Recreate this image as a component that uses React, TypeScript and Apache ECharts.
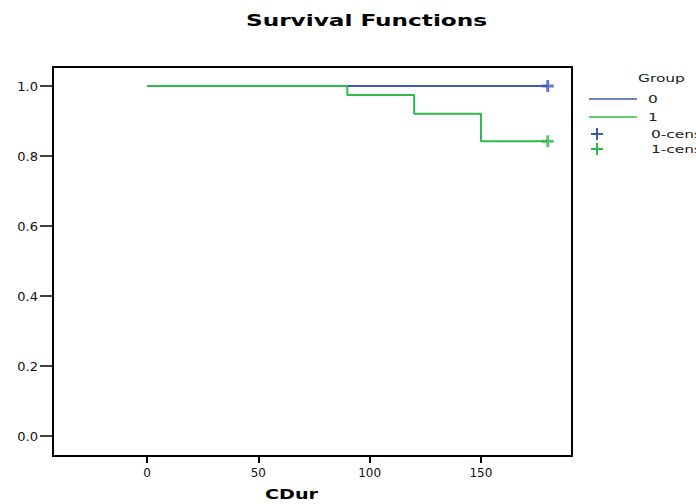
import React, { useEffect, useRef } from "react";
import * as echarts from "echarts";

// ---- data ----
const groupNames = ["0", "1"];
const time0 = [0, 180];
const surv0 = [1.0, 1.0];
const time1 = [0, 90, 120, 150, 180];
const surv1 = [1.0, 0.974, 0.921, 0.842, 0.842];
const censTime0 = [180];
const censSurv0 = [1.0];
const censTime1 = [180];
const censSurv1 = [0.842];
const xTicks = [0, 50, 100, 150];
const yTicks = [0, 0.2, 0.4, 0.6, 0.8, 1.0];
const titleText = "Survival Functions";
const xName = "CDur";
const legendTitle = "Group";
const legendLabels = ["0", "1", "0-censored", "1-censored"];

const OFF = 16; // chart div is shifted left by this many px (page clips it)
const BLUE = "#3e5ab2";
const GREEN = "#2fb84b";
const FONT = "DejaVu Sans";
const PLUS = "path://M4.5,0h3v4.5h4.5v3h-4.5v4.5h-3v-4.5h-4.5v-3h4.5z";

export default function App() {
  const ref = useRef<HTMLDivElement>(null);
  useEffect(() => {
    if (!ref.current) return;
    const chart = echarts.init(ref.current, null, { renderer: "svg" });
    const pair = (t: number[], s: number[]) => t.map((v, i) => [v, s[i]]);
    const X = (px: number) => px + OFF;

    const plusGraphic = (cx: number, cy: number, color: string) => [
      { type: "line", shape: { x1: X(cx - 6), y1: cy, x2: X(cx + 6), y2: cy }, style: { stroke: color, lineWidth: 2 } },
      { type: "line", shape: { x1: X(cx), y1: cy - 6, x2: X(cx), y2: cy + 6 }, style: { stroke: color, lineWidth: 2 } },
    ];
    const legendText = (txt: string, x: number, y: number) => ({
      type: "text",
      x: X(x),
      y,
      scaleX: 1.4,
      style: { text: txt, font: `11px "${FONT}"`, fill: "#222", textAlign: "left", textVerticalAlign: "middle" },
    });

    chart.setOption({
      animation: false,
      backgroundColor: "#fff",
      grid: {
        left: 53 + OFF,
        top: 67,
        width: 519,
        height: 389,
        show: true,
        borderColor: "#000",
        borderWidth: 2,
        containLabel: false,
      },
      xAxis: {
        type: "value",
        min: -42.2,
        max: 190.9,
        axisLine: { show: false, onZero: false },
        splitLine: { show: false },
        axisTick: { show: true, customValues: xTicks, length: 7, lineStyle: { color: "#000", width: 2 } },
        axisLabel: {
          customValues: xTicks,
          margin: 11,
          fontFamily: FONT,
          fontSize: 12,
          color: "#111",
        },
      },
      yAxis: {
        type: "value",
        min: -0.0571,
        max: 1.0543,
        axisLine: { show: false, onZero: false },
        splitLine: { show: false },
        axisTick: { show: true, customValues: yTicks, length: 13, lineStyle: { color: "#000", width: 1.5 } },
        axisLabel: {
          customValues: yTicks,
          margin: 15,
          fontFamily: FONT,
          fontSize: 13,
          color: "#111",
          formatter: (v: number) => v.toFixed(1),
        },
      },
      series: [
        {
          name: groupNames[0],
          type: "line",
          step: "end",
          data: pair(time0, surv0),
          showSymbol: false,
          lineStyle: { color: BLUE, width: 2 },
          z: 2,
        },
        {
          name: groupNames[1],
          type: "line",
          step: "end",
          data: pair(time1, surv1),
          showSymbol: false,
          lineStyle: { color: GREEN, width: 2 },
          z: 3,
        },
        {
          name: groupNames[0] + "-censored",
          type: "scatter",
          data: pair(censTime0, censSurv0),
          symbol: PLUS,
          symbolSize: 12,
          itemStyle: { color: BLUE },
          z: 4,
        },
        {
          name: groupNames[1] + "-censored",
          type: "scatter",
          data: pair(censTime1, censSurv1),
          symbol: PLUS,
          symbolSize: 12,
          itemStyle: { color: GREEN },
          z: 4,
        },
      ],
      graphic: [
        {
          type: "text",
          x: X(366.5),
          y: 20.5,
          scaleX: 1.45,
          style: { text: titleText, font: `bold 16px "${FONT}"`, fill: "#000", textAlign: "center", textVerticalAlign: "middle" },
        },
        {
          type: "text",
          x: X(291.5),
          y: 493.5,
          scaleX: 1.37,
          style: { text: xName, font: `bold 14px "${FONT}"`, fill: "#000", textAlign: "center", textVerticalAlign: "middle" },
        },
        legendText(legendTitle, 638, 78),
        { type: "line", shape: { x1: X(589), y1: 99, x2: X(637), y2: 99 }, style: { stroke: BLUE, lineWidth: 1.5 } },
        legendText(legendLabels[0], 648, 99),
        { type: "line", shape: { x1: X(589), y1: 117, x2: X(637), y2: 117 }, style: { stroke: GREEN, lineWidth: 1.5 } },
        legendText(legendLabels[1], 648, 117),
        ...plusGraphic(597, 134, BLUE),
        legendText(legendLabels[2], 651, 134),
        ...plusGraphic(597, 149, GREEN),
        legendText(legendLabels[3], 651, 149),
      ],
    });
    return () => chart.dispose();
  }, []);
  return (
    <div
      ref={ref}
      style={{ position: "absolute", left: -OFF, top: 0, width: 696 + OFF, height: 504, overflow: "hidden" }}
    />
  );
}
